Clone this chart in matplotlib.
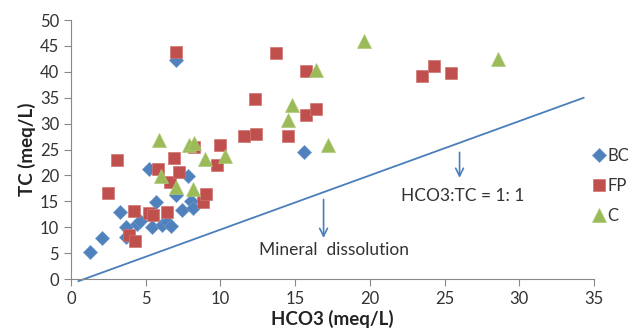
import matplotlib
matplotlib.use("Agg")
import matplotlib.pyplot as plt

plt.rcParams["font.family"] = ["Lato", "DejaVu Sans"]

# BC samples (HCO3, TC) in meq/L
bc_hco3 = [1.3, 2.1, 3.3, 3.7, 3.7, 4.4, 4.6, 5.4, 6.1, 6.4, 6.7, 5.7, 5.2, 7.0, 7.0, 7.4, 7.8, 8.05, 8.15, 15.6]
bc_tc = [5.3, 7.9, 12.9, 8.1, 10.1, 10.6, 11.3, 10.0, 10.4, 11.0, 10.3, 14.8, 21.2, 42.3, 16.2, 13.3, 19.9, 15.0, 13.7, 24.6]

# FP samples
fp_hco3 = [2.5, 3.1, 3.9, 4.3, 4.2, 5.2, 5.5, 6.4, 5.8, 6.6, 6.9, 7.2, 7.05, 8.2, 8.8,
           9.0, 9.8, 10.0, 11.6, 12.4, 12.3, 13.7, 14.5, 15.7, 15.7, 16.4, 23.5, 24.3, 25.4]
fp_tc = [16.6, 23.0, 8.6, 7.4, 13.1, 12.8, 12.3, 13.0, 21.2, 18.8, 23.3, 20.6, 43.9, 25.5, 14.9,
         16.5, 22.1, 25.8, 27.7, 28.0, 34.8, 43.7, 27.6, 31.7, 40.2, 32.8, 39.2, 41.1, 39.7]

# C samples
c_hco3 = [5.9, 6.0, 7.0, 7.9, 8.2, 8.15, 8.95, 10.3, 14.5, 14.8, 16.4, 17.2, 19.6, 28.6]
c_tc = [26.8, 19.9, 17.7, 25.9, 26.3, 17.3, 23.2, 23.8, 30.7, 33.7, 40.3, 25.9, 46.0, 42.5]

# reference line end points
line_x = [0.5, 34.3]
line_y = [-0.4, 35.0]

fig = plt.figure(figsize=(6.34, 3.35), dpi=100)
ax = fig.add_axes([0.112, 0.167, 0.825, 0.773])

ax.plot(line_x, line_y, color="#4A7EBB", lw=1.3, clip_on=False, zorder=1)

ax.plot(bc_hco3, bc_tc, "D", color="#4F81BD", ms=7.5, mec="#6B95C8", mew=0.5, label="BC", zorder=3)
ax.plot(fp_hco3, fp_tc, "s", color="#C0504D", ms=9, mec="#D07470", mew=0.5, label="FP", zorder=3)
ax.plot(c_hco3, c_tc, "^", color="#9BBB59", ms=9.5, mec="#AFC97A", mew=0.5, label="C", zorder=3)

arrow = dict(arrowstyle="->", color="#4A7EBB", lw=1.2, mutation_scale=14)
ax.annotate("", xy=(26.0, 19.0), xytext=(26.0, 25.0), arrowprops=arrow)
ax.annotate("", xy=(16.9, 7.4), xytext=(16.9, 15.9), arrowprops=arrow)
ax.text(22.1, 16.0, "HCO3:TC = 1: 1", fontsize=12.5, color="#333333", va="center", ha="left")
ax.text(12.6, 5.6, "Mineral  dissolution", fontsize=12.5, color="#333333", va="center", ha="left")

ax.set_xlim(0, 35)
ax.set_ylim(0, 50)
ax.set_xticks(range(0, 36, 5))
ax.set_yticks(range(0, 51, 5))
for s in ["top", "right"]:
    ax.spines[s].set_visible(False)
for s in ["left", "bottom"]:
    ax.spines[s].set_color("#888888")
ax.tick_params(colors="#888888", labelcolor="#333333", labelsize=12, length=5, width=0.8)
ax.set_xlabel("HCO3 (meq/L)", fontsize=13.5, fontweight="bold", color="#222222", labelpad=2)
ax.set_ylabel("TC (meq/L)", fontsize=13.5, fontweight="bold", color="#222222", labelpad=3)

leg = ax.legend(loc="center left", bbox_to_anchor=(0.985, 0.36), frameon=False, fontsize=12,
                handlelength=0.7, handletextpad=0.15, labelspacing=0.85, borderaxespad=0)
for t in leg.get_texts():
    t.set_color("#333333")

fig.savefig("out.png", dpi=100)
